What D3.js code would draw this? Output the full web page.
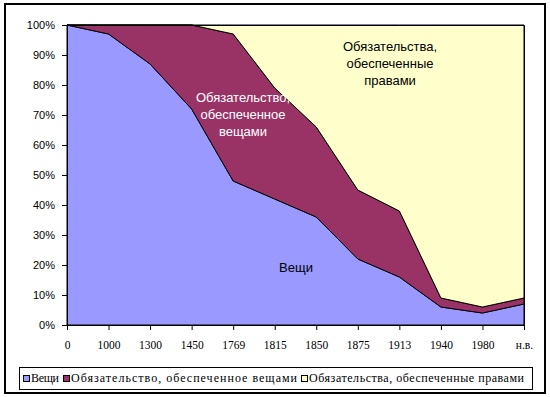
<!DOCTYPE html>
<html>
<head>
<meta charset="utf-8">
<script src="https://cdn.jsdelivr.net/npm/d3@7"></script>
<style>
  body { margin: 0; background: #fff; }
  svg { display: block; }
</style>
</head>
<body>
<svg id="chart" width="550" height="397"></svg>
<script>
// Categories along the x axis
const periods = ["0", "1000", "1300", "1450", "1769", "1815", "1850", "1875", "1913", "1940", "1980", "н.в."];

// Share of each kind of property, percent
const things = [100, 97, 87, 72, 48, 42, 36, 22, 16, 6, 4, 7];
const thingObligations = [0, 3, 13, 28, 49, 37, 30, 23, 22, 3, 2, 2];
const rightObligations = [0, 0, 0, 0, 3, 21, 34, 55, 62, 91, 94, 91];

const seriesNames = ["Вещи", "Обязательство, обеспеченное вещами", "Обязательства, обеспеченные правами"];
const seriesColors = ["#9999ff", "#993366", "#ffffcc"];
const yTicks = [0, 10, 20, 30, 40, 50, 60, 70, 80, 90, 100];

const svg = d3.select("#chart");

// Chart border
svg.append("rect")
  .attr("x", 5).attr("y", 4)
  .attr("width", 540).attr("height", 389)
  .attr("fill", "#fff")
  .attr("stroke", "#000")
  .attr("stroke-width", 2);

const plot = { left: 67, right: 524, top: 25, bottom: 325 };

const x = d3.scalePoint().domain(periods).range([plot.left, plot.right]);
const y = d3.scaleLinear().domain([0, 100]).range([plot.bottom, plot.top]);

// Build rows for the stack
const rows = periods.map((p, i) => ({
  period: p,
  s0: things[i],
  s1: thingObligations[i],
  s2: rightObligations[i],
}));

const stack = d3.stack().keys(["s0", "s1", "s2"]);
const layers = stack(rows);

const area = d3.area()
  .x((d) => x(d.data.period))
  .y0((d) => y(d[0]))
  .y1((d) => y(d[1]));

svg.append("g")
  .selectAll("path")
  .data(layers)
  .join("path")
  .attr("d", area)
  .attr("fill", (d, i) => seriesColors[i])
  .attr("stroke", "#000")
  .attr("stroke-width", 1);

// Plot area outline (top and right)
svg.append("path")
  .attr("d", `M${plot.left},${plot.top + 0.5}H${plot.right + 0.5}V${plot.bottom}`)
  .attr("fill", "none")
  .attr("stroke", "#000");

// Y axis
const yAxis = svg.append("g")
  .attr("transform", `translate(${plot.left},0)`)
  .call(d3.axisLeft(y).tickValues(yTicks).tickFormat((d) => d + "%").tickSize(5).tickPadding(7));
yAxis.selectAll("text")
  .attr("font-family", "Liberation Sans, Arial, sans-serif")
  .attr("font-size", 11)
  .attr("fill", "#000");

// X axis
const xAxis = svg.append("g")
  .attr("transform", `translate(0,${plot.bottom})`)
  .call(d3.axisBottom(x).tickSize(5).tickPadding(11));
xAxis.selectAll("text")
  .attr("font-family", "Liberation Serif, Times New Roman, serif")
  .attr("font-size", 11.5)
  .attr("fill", "#000");

svg.selectAll(".domain").attr("stroke", "#000");
svg.selectAll(".tick line").attr("stroke", "#000");

// Labels inside the chart
function multiLabel(lines, cx, y0, step, color) {
  const t = svg.append("text")
    .attr("font-family", "Liberation Sans, Arial, sans-serif")
    .attr("font-size", 13)
    .attr("fill", color)
    .attr("text-anchor", "middle");
  lines.forEach((ln, i) => {
    t.append("tspan").attr("x", cx).attr("y", y0 + i * step).text(ln);
  });
}
multiLabel(["Обязательства,", "обеспеченные", "правами"], 390, 51, 17, "#000");
multiLabel(["Обязательство,", "обеспеченное", "вещами"], 243, 102, 17, "#fff");
multiLabel(["Вещи"], 296, 272, 17, "#000");

// Legend
const legend = svg.append("g");
legend.append("rect")
  .attr("x", 19.5).attr("y", 367.5)
  .attr("width", 513).attr("height", 22)
  .attr("fill", "#fff")
  .attr("stroke", "#000");

const legendWidths = [28, 226, 215];
let cursor = 23;
seriesNames.forEach((name, i) => {
  legend.append("rect")
    .attr("x", cursor + 0.5).attr("y", 375.5)
    .attr("width", 6).attr("height", 6)
    .attr("fill", seriesColors[i])
    .attr("stroke", "#000");
  legend.append("text")
    .attr("x", cursor + 8)
    .attr("y", 382)
    .attr("font-family", "Liberation Serif, Times New Roman, serif")
    .attr("font-size", 12)
    .attr("textLength", legendWidths[i])
    .attr("lengthAdjust", "spacing")
    .text(name);
  cursor += 8 + legendWidths[i] + 4;
});
</script>
</body>
</html>
